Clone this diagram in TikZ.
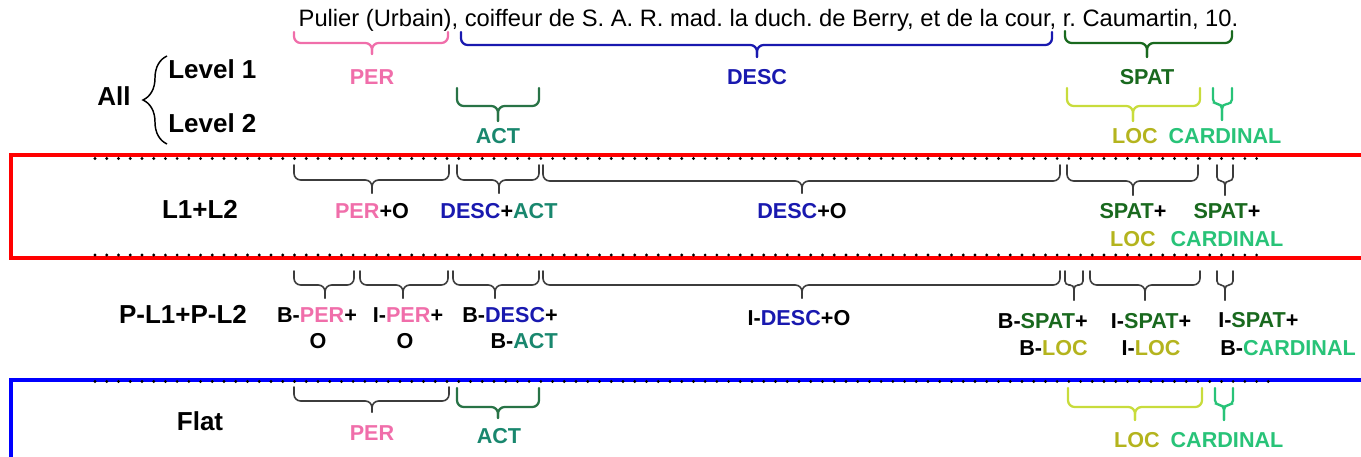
\documentclass[tikz,border=0pt]{standalone}
\usepackage{fontspec}
\setmainfont{Liberation Sans}
\usetikzlibrary{decorations.pathreplacing}
\definecolor{per}{RGB}{240,110,170}
\definecolor{desc}{RGB}{25,25,175}
\definecolor{spat}{RGB}{25,105,30}
\definecolor{actb}{RGB}{40,115,70}
\definecolor{actt}{RGB}{25,135,110}
\definecolor{locb}{RGB}{200,220,60}
\definecolor{loct}{RGB}{180,180,30}
\definecolor{card}{RGB}{40,195,120}
\definecolor{gbr}{RGB}{60,60,60}
\newcommand{\brc}[8]{%
  \draw[#1,rounded corners=#8] (#2,#5) -- (#2,#6) -- (#4,#6) -- (#4,#7);
  \draw[#1,rounded corners=#8] (#3,#5) -- (#3,#6) -- (#4,#6) -- (#4,#7);}
\begin{document}
\frenchspacing
\begin{tikzpicture}[x=0.75pt,y=-0.75pt,
  sent/.style={font=\fontsize{17.8}{20}\selectfont,inner sep=0pt},
  lab/.style={font=\bfseries\fontsize{16.2}{18}\selectfont,inner sep=0pt},
  head/.style={font=\bfseries\fontsize{19.5}{22}\selectfont,inner sep=0pt},
  cbr/.style={line width=1.7pt,line cap=round},
  gb/.style={gbr,line width=1.2pt,line cap=round},
  redbox/.style={draw=red,line width=2.6pt},
  bluebox/.style={draw=blue,line width=2.6pt},
  dotline/.style={black,line width=2.4pt,line cap=round,dash pattern=on 0pt off 8.8pt}]
\useasboundingbox (0,0) rectangle (1361,457);
\clip (0,0) rectangle (1361,457);
% boxes
\draw[redbox] (11,155) rectangle (1380,258);
\draw[bluebox] (11,380) rectangle (1380,480);
\draw[dotline] (95,158.5) -- (1265,158.5);
\draw[dotline] (95,255) -- (1265,255);
\draw[dotline] (95,381.5) -- (1278,381.5);
% sentence
\node[sent,anchor=base] (sent) at (768.5,26.5) {Pulier (Urbain), coiffeur de S. A. R. mad. la duch. de Berry, et de la cour, r. Caumartin, 10.};
% top braces
\brc{cbr,per}{294}{448}{372}{32}{43}{54}{5pt}
\brc{cbr,desc}{461}{1052}{757}{32}{45}{57}{5pt}
\brc{cbr,spat}{1065}{1232}{1147}{31}{43}{57}{5pt}
\brc{cbr,actb}{457}{539}{498}{88}{106}{121}{5pt}
\brc{cbr,locb}{1067}{1200}{1133}{88}{106}{121}{5pt}
\brc{cbr,card}{1213}{1232}{1222}{88}{104}{120}{3.5pt}
\node[lab,text=per,anchor=base] (perA) at (372,84.5) {PER};
\node[lab,text=desc,anchor=base] (descA) at (757,84) {DESC};
\node[lab,text=spat,anchor=base] (spatA) at (1147,84) {SPAT};
\node[lab,text=actt,anchor=base] (actA) at (498,143.5) {ACT};
\node[lab,text=loct,anchor=base] (locA) at (1135,143.5) {LOC};
\node[lab,text=card,anchor=base] (cardA) at (1225,143.5) {CARDINAL};
% headings
\node[head,anchor=base] (all) at (114,105) {All};
\node[head,anchor=base west] (lv1) at (168,78) {Level 1};
\node[head,anchor=base west] (lv2) at (168,132) {Level 2};
\draw[line width=1.1pt,decorate,decoration={brace,amplitude=18pt}] (167,144) -- (167,56);
\node[head,anchor=base] (l12) at (200,218) {L1+L2};
\node[head,anchor=base] (pl12) at (183,323) {P-L1+P-L2};
\node[head,anchor=base] (flat) at (200,430) {Flat};
% L1+L2 row
\brc{gb}{294}{449}{372}{165}{180}{193}{5pt}
\brc{gb}{457}{539}{499}{165}{180}{193}{5pt}
\brc{gb}{543}{1060}{802}{165}{181}{193}{5pt}
\brc{gb}{1067}{1198}{1133}{165}{181}{195}{5pt}
\brc{gb}{1217}{1233}{1225}{165}{181}{195}{3pt}
\node[lab,anchor=base] (perO) at (372,218) {\textcolor{per}{PER}+O};
\node[lab,anchor=base] (descact) at (499,218) {\textcolor{desc}{DESC}+\textcolor{actt}{ACT}};
\node[lab,anchor=base] (descO) at (802,218) {\textcolor{desc}{DESC}+O};
\node[lab,anchor=base] (spat1) at (1133,218) {\textcolor{spat}{SPAT}+};
\node[lab,anchor=base] (loc1) at (1133,246.5) {\textcolor{loct}{LOC}};
\node[lab,anchor=base] (spat2) at (1227,218) {\textcolor{spat}{SPAT}+};
\node[lab,anchor=base] (card1) at (1227,246.5) {\textcolor{card}{CARDINAL}};
% P-L1+P-L2 row
\brc{gb}{294}{354}{325}{271}{285}{298}{5pt}
\brc{gb}{360}{448}{403}{271}{285}{298}{5pt}
\brc{gb}{453}{539}{495}{271}{285}{298}{5pt}
\brc{gb}{543}{1060}{802}{271}{285}{298}{5pt}
\brc{gb}{1065}{1083}{1074}{271}{285}{300}{3pt}
\brc{gb}{1090}{1200}{1145}{271}{285}{300}{5pt}
\brc{gb}{1217}{1233}{1225}{271}{285}{300}{3pt}
\node[lab,anchor=base] (bper) at (317,322) {B-\textcolor{per}{PER}+};
\node[lab,anchor=base] (bperO) at (318,348) {O};
\node[lab,anchor=base] (iper) at (408,322) {I-\textcolor{per}{PER}+};
\node[lab,anchor=base] (iperO) at (405,348) {O};
\node[lab,anchor=base east] (bdesc) at (558,322) {B-\textcolor{desc}{DESC}+};
\node[lab,anchor=base east] (bact) at (558,348) {B-\textcolor{actt}{ACT}};
\node[lab,anchor=base] (idesc) at (799,325) {I-\textcolor{desc}{DESC}+O};
\node[lab,anchor=base east] (bspat) at (1088,328) {B-\textcolor{spat}{SPAT}+};
\node[lab,anchor=base east] (bloc) at (1088,355) {B-\textcolor{loct}{LOC}};
\node[lab,anchor=base] (ispat) at (1151,328) {I-\textcolor{spat}{SPAT}+};
\node[lab,anchor=base] (iloc) at (1151,355) {I-\textcolor{loct}{LOC}};
\node[lab,anchor=base west] (ispat2) at (1218,327) {I-\textcolor{spat}{SPAT}+};
\node[lab,anchor=base west] (bcard) at (1220,355) {B-\textcolor{card}{CARDINAL}};
% Flat row
\brc{gb}{294}{449}{372}{387}{401}{412}{5pt}
\brc{cbr,actb}{457}{539}{498}{388}{407}{418}{5pt}
\brc{cbr,locb}{1068}{1202}{1135}{388}{407}{420}{5pt}
\brc{cbr,card}{1215}{1233}{1224}{388}{405}{420}{3.5pt}
\node[lab,text=per,anchor=base] (perF) at (372,440) {PER};
\node[lab,text=actt,anchor=base] (actF) at (499,443) {ACT};
\node[lab,text=loct,anchor=base] (locF) at (1137,447) {LOC};
\node[lab,text=card,anchor=base] (cardF) at (1227,447) {CARDINAL};
\end{tikzpicture}
\end{document}
